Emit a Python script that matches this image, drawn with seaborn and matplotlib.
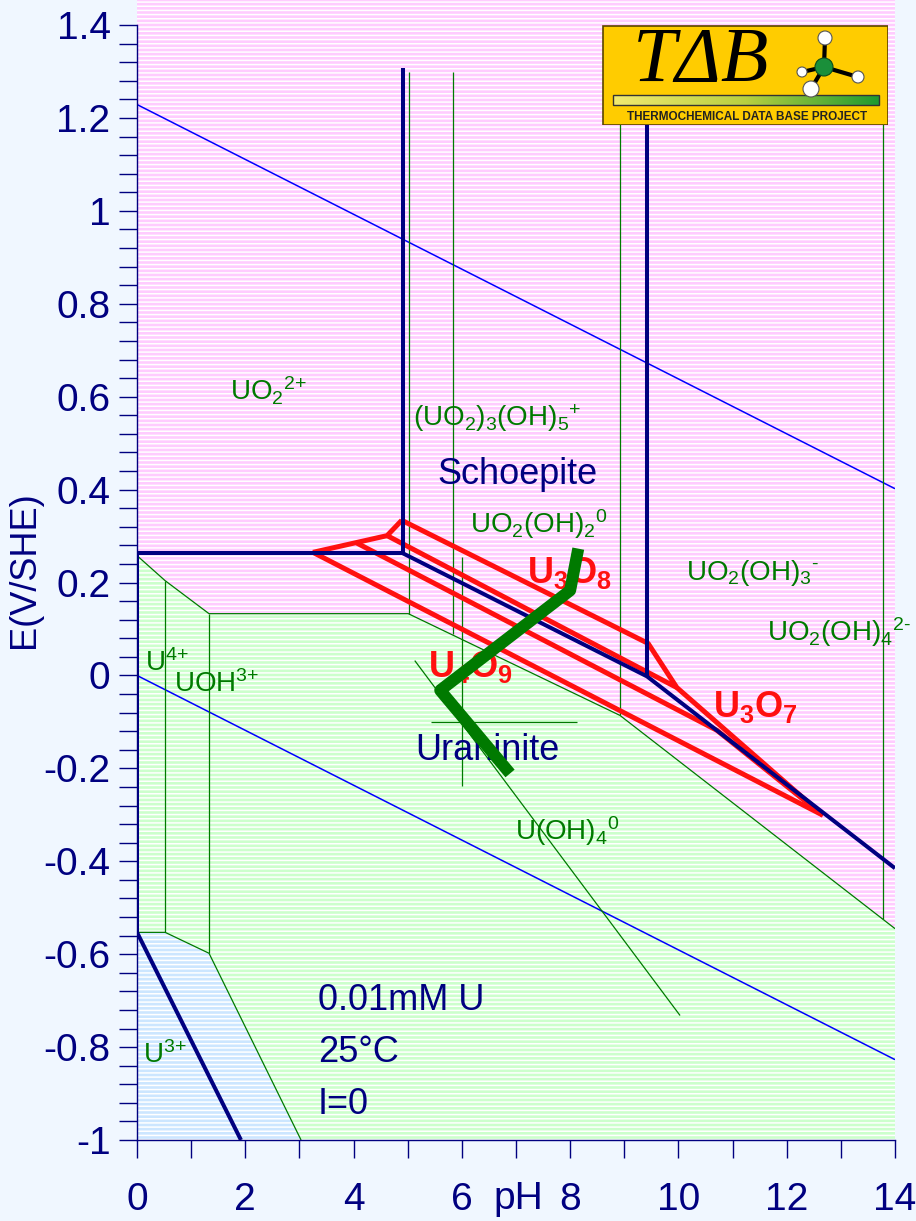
"""
U Pourbaix diagram (0.01 mM U, 25 C, I=0) with TDB logo
"""

import numpy as np
import matplotlib
matplotlib.use("Agg")
import matplotlib.pyplot as plt
import seaborn as sns
from matplotlib.ticker import MultipleLocator, FixedLocator, FuncFormatter
from matplotlib.patches import Rectangle, Circle
from matplotlib.colors import LinearSegmentedColormap

sns.set_theme(style="white")
plt.rcParams['font.family'] = ['Liberation Sans', 'DejaVu Sans']
plt.rcParams['mathtext.fontset'] = 'custom'
plt.rcParams['mathtext.rm'] = 'Liberation Sans'
plt.rcParams['mathtext.bf'] = 'Liberation Sans:bold'
plt.rcParams['mathtext.it'] = 'Liberation Sans:italic'
plt.rcParams['axes.unicode_minus'] = False
plt.rcParams['hatch.linewidth'] = 1.1

# ---- data (pH, E in V/SHE) ----
# water stability lines
water_ph = [0, 14]
o2_E = [1.229, 0.402]
h2_E = [0.0, -0.827]

# U(IV) field (green) and U3+ field (blue)
u4_ph = [0, 0.52, 1.33, 5.01, 8.92, 14, 14, 3.03, 1.33, 0.52, 0]
u4_E = [0.258, 0.204, 0.133, 0.133, -0.086, -0.545, -1.0, -1.0, -0.598, -0.553, -0.553]
u3_ph = [0, 0.52, 1.33, 3.03, 0]
u3_E = [-0.553, -0.553, -0.598, -1.0, -1.0]

# thin species boundaries (vertical)
sp_ph = [0.52, 1.33, 5.02, 5.84, 8.92, 13.78, 6.0]
sp_top = [0.204, 0.133, 1.30, 1.30, 1.30, 1.30, 0.256]
sp_bot = [-0.553, -0.598, 0.133, 0.09, -0.086, -0.525, -0.237]
# other thin species boundaries
hline_ph = [5.43, 8.13]
hline_E = [-0.101, -0.101]
diag_ph = [5.13, 10.03]
diag_E = [0.032, -0.732]

# solid phase boundaries (navy)
nav_lines = [
    ([0, 0], [0.263, -0.553]),
    ([0, 4.91], [0.263, 0.263]),
    ([4.91, 4.91], [0.263, 1.307]),
    ([4.91, 9.42, 14], [0.263, -0.002, -0.415]),
    ([9.42, 9.42], [-0.002, 1.30]),
    ([0, 1.92], [-0.553, -1.0]),
]

# U3O8 / U4O9 / U3O7 boundaries (red)
red_lines = [
    ([3.25, 4.62, 4.89], [0.265, 0.301, 0.334]),
    ([4.89, 9.44, 9.97, 12.67], [0.334, 0.069, -0.026, -0.301]),
    ([4.62, 9.97], [0.301, -0.026]),
    ([4.06, 10.71, 12.67], [0.285, -0.118, -0.301]),
    ([3.25, 12.67], [0.265, -0.301]),
]

# measured trajectory (thick green)
traj_ph = [8.15, 8.0, 5.6, 6.89]
traj_E = [0.273, 0.183, -0.032, -0.211]

y_ticks = [-1, -0.8, -0.6, -0.4, -0.2, 0, 0.2, 0.4, 0.6, 0.8, 1, 1.2, 1.4]

NAVY = '#000080'
GREEN = '#007a00'
RED = '#ff1010'
PINK = '#ffccff'
LGREEN = '#ccffcc'
LBLUE = '#cce6ff'


def line(ax, x, y, color, lw, z):
    sns.lineplot(x=x, y=y, sort=False, estimator=None, color=color,
                 linewidth=lw, ax=ax, zorder=z, solid_capstyle='butt')


fig = plt.figure(figsize=(9.16, 12.21), dpi=100, facecolor='#f0f7ff')
ax = fig.add_axes([137 / 916, 1 - 1140 / 1221, 758 / 916, 1140 / 1221])
ax.set_xlim(0, 14)
ax.set_ylim(-1, 1.454)

# 区域填充
ax.axvspan(0, 14, facecolor=PINK, edgecolor='white', lw=0, hatch='----', zorder=0)
ax.fill(u4_ph, u4_E, facecolor=LGREEN, edgecolor='white', lw=0, hatch='----', zorder=0.5)
ax.fill(u3_ph, u3_E, facecolor=LBLUE, edgecolor='white', lw=0, hatch='----', zorder=0.6)

# 水稳定线
line(ax, water_ph, o2_E, '#0000ff', 1.1, 2)
line(ax, water_ph, h2_E, '#0000ff', 1.1, 2)

# 细绿线
line(ax, u4_ph[:6], u4_E[:6], GREEN, 0.9, 2)
line(ax, u4_ph[7:], u4_E[7:], GREEN, 0.9, 2)
for x0, top, bot in zip(sp_ph, sp_top, sp_bot):
    line(ax, [x0, x0], [top, bot], GREEN, 0.9, 2)
line(ax, hline_ph, hline_E, GREEN, 0.9, 2)
line(ax, diag_ph, diag_E, GREEN, 0.9, 2)

for xs, ys in red_lines:
    line(ax, xs, ys, RED, 3.6, 3)
for xs, ys in nav_lines:
    line(ax, xs, ys, NAVY, 2.9, 4)

line(ax, traj_ph, traj_E, GREEN, 8.6, 10)

# 标签
sp_kw = dict(color=GREEN, fontsize=20, ha='left', va='baseline', zorder=5)
ax.text(1.72, 0.592, r'$\mathrm{UO_2{}^{2{+}}}$', **sp_kw)
ax.text(5.10, 0.538, r'$\mathrm{(UO_2)_3(OH)_5{}^{{+}}}$', **sp_kw)
ax.text(6.15, 0.306, r'$\mathrm{UO_2(OH)_2{}^{0}}$', **sp_kw)
ax.text(10.14, 0.205, r'$\mathrm{UO_2(OH)_3{}^{\text{-}}}$', **sp_kw)
ax.text(11.64, 0.075, r'$\mathrm{UO_2(OH)_4{}^{2\text{-}}}$', **sp_kw)
ax.text(6.98, -0.355, r'$\mathrm{U(OH)_4{}^{0}}$', **sp_kw)
ax.text(0.15, 0.010, r'$\mathrm{U^{4{+}}}$', **sp_kw)
ax.text(0.68, -0.036, r'$\mathrm{UOH^{3{+}}}$', **sp_kw)
ax.text(0.11, -0.835, r'$\mathrm{U^{3{+}}}$', **sp_kw)

red_kw = dict(color=RED, fontsize=26, ha='left', va='baseline', zorder=5)
ax.text(7.20, 0.200, r'$\mathbf{U_3O_8}$', **red_kw)
ax.text(5.38, -0.004, r'$\mathbf{U_4O_9}$', **red_kw)
ax.text(10.64, -0.090, r'$\mathbf{U_3O_7}$', **red_kw)

nav_kw = dict(color=NAVY, fontsize=26, ha='left', va='baseline', zorder=5)
ax.text(5.54, 0.413, 'Schoepite', **nav_kw)
ax.text(5.13, -0.183, 'Uraninite', **nav_kw)
ax.text(3.34, -0.721, '0.01mM U', **nav_kw)
ax.text(3.34, -0.833, '25°C', **nav_kw)
ax.text(3.34, -0.943, 'I=0', **nav_kw)

# 坐标轴
ax.xaxis.set_major_locator(MultipleLocator(2))
ax.xaxis.set_minor_locator(MultipleLocator(1))
ax.yaxis.set_major_locator(FixedLocator(y_ticks))
ax.yaxis.set_minor_locator(FixedLocator(np.arange(-1, 1.401, 0.04)))
ax.yaxis.set_major_formatter(FuncFormatter(lambda v, p: f'{round(v, 2) + 0:g}'))
ax.tick_params(axis='both', which='both', direction='out', length=13, width=1,
               color=NAVY, labelcolor=NAVY, labelsize=28, bottom=True, left=True)
ax.tick_params(axis='x', pad=17)
ax.tick_params(axis='y', pad=6)
for s in ['top', 'right']:
    ax.spines[s].set_visible(False)
for s in ['left', 'bottom']:
    ax.spines[s].set_color(NAVY)
    ax.spines[s].set_linewidth(1)
ax.spines['left'].set_bounds(-1, 1.4)
ax.grid(False)

ax.set_ylabel('E(V/SHE)', fontsize=26, color=NAVY)
ax.yaxis.set_label_coords(-0.125, 0.5)
ax.set_xlabel('pH', fontsize=28, color=NAVY)
ax.xaxis.set_label_coords(0.503, -0.036)

# ---- TDB 标志 ----
lg = fig.add_axes([602 / 916, 1 - 125 / 1221, 286 / 916, 100 / 1221])
lg.add_patch(Rectangle((0.5, 0.5), 285, 99, facecolor='#ffcc00', edgecolor='#5a4500', lw=1.2))
grad = LinearSegmentedColormap.from_list('tdb', ['#f2ea70', '#b8d040', '#1e9a30'])
lg.imshow(np.linspace(0, 1, 256).reshape(1, -1), cmap=grad, extent=(11, 277, 80, 70), aspect='auto', zorder=2)
lg.add_patch(Rectangle((11, 70), 266, 10, fill=False, edgecolor='#333333', lw=1, zorder=3))
lg.text(99, 37, 'TΔB', family='Liberation Serif', style='italic', fontsize=56, ha='center', va='center', color='black')
lg.text(145, 92, 'THERMOCHEMICAL DATA BASE PROJECT', fontsize=8.5, fontweight='bold',
        ha='center', va='center', color='#222222')
ctr = (222, 42)
for bx, by, r in [(223, 13, 7), (200, 47, 5), (256, 52, 6), (209, 64, 8)]:
    lg.plot([ctr[0], bx], [ctr[1], by], color='black', lw=3, zorder=4)
lg.add_patch(Circle(ctr, 9, facecolor='#1a8f3a', edgecolor='#0b4d1c', lw=0.8, zorder=5))
for bx, by, r in [(223, 13, 7), (200, 47, 5), (256, 52, 6), (209, 64, 8)]:
    lg.add_patch(Circle((bx, by), r, facecolor='white', edgecolor='#555555', lw=0.8, zorder=6))
lg.set_xlim(0, 286)
lg.set_ylim(100, 0)
lg.axis('off')

plt.savefig('out.png', dpi=100, facecolor=fig.get_facecolor())
plt.close()
